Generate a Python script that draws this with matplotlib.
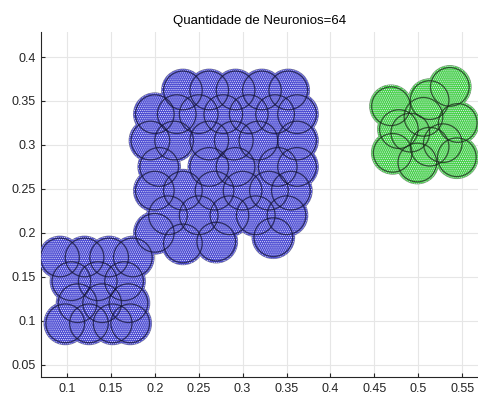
import matplotlib.pyplot as plt
from matplotlib.patches import Circle

plt.rcParams["font.family"] = ["Liberation Sans", "DejaVu Sans"]

# neuron centres (x, y) for each class, 64 in total
blue_x = [
    # lower-left block
    0.092, 0.120, 0.148, 0.175,
    0.105, 0.135, 0.165,
    0.112, 0.140, 0.170,
    0.098, 0.125, 0.152, 0.172,
    # bridge
    0.200, 0.232, 0.270,
    # upper block
    0.232, 0.262, 0.292, 0.322, 0.352,
    0.200, 0.225, 0.250, 0.278, 0.307, 0.337, 0.362,
    0.195, 0.222, 0.262, 0.290, 0.318, 0.362,
    0.205, 0.262, 0.292, 0.340, 0.362,
    0.200, 0.232, 0.268, 0.300, 0.330, 0.355,
    0.215, 0.250, 0.285, 0.315, 0.350,
    0.335,
]
blue_y = [
    0.172, 0.172, 0.172, 0.172,
    0.145, 0.145, 0.145,
    0.120, 0.120, 0.120,
    0.097, 0.097, 0.097, 0.097,
    0.200, 0.188, 0.190,
    0.362, 0.362, 0.362, 0.362, 0.362,
    0.335, 0.335, 0.335, 0.335, 0.335, 0.335, 0.335,
    0.305, 0.305, 0.305, 0.305, 0.305, 0.305,
    0.275, 0.275, 0.275, 0.275, 0.275,
    0.248, 0.248, 0.248, 0.248, 0.248, 0.248,
    0.220, 0.220, 0.220, 0.220, 0.220,
    0.195,
]
green_x = [0.469, 0.513, 0.536, 0.545, 0.506, 0.491,
           0.471, 0.499, 0.544, 0.528, 0.513, 0.478]
green_y = [0.344, 0.351, 0.366, 0.325, 0.332, 0.314,
           0.291, 0.280, 0.286, 0.302, 0.298, 0.318]

radius = 0.022
x_ticks = [0.1, 0.15, 0.2, 0.25, 0.3, 0.35, 0.4, 0.45, 0.5, 0.55]
y_ticks = [0.05, 0.1, 0.15, 0.2, 0.25, 0.3, 0.35, 0.4]


def draw_cluster(ax, xs, ys, face, rim, ring):
    # rim first, so only the outer border of the union shows
    for x, y in zip(xs, ys):
        ax.add_patch(Circle((x, y), radius * 1.1, facecolor="none",
                            edgecolor=rim, lw=0.8, zorder=2))
    for x, y in zip(xs, ys):
        ax.add_patch(Circle((x, y), radius * 1.1, facecolor=face,
                            edgecolor="#e8e8ff", lw=0, hatch="........",
                            zorder=3))
    for x, y in zip(xs, ys):
        ax.add_patch(Circle((x, y), radius, facecolor="none",
                            edgecolor=ring, lw=0.9, alpha=0.75, zorder=4))


fig = plt.figure(figsize=(4.78, 3.96), dpi=100)
ax = fig.add_axes([0.0858, 0.048, 0.914, 0.871])

plt.rcParams["hatch.linewidth"] = 0.5
draw_cluster(ax, blue_x, blue_y, "#4c4cd2", "#7a7a90", "#141438")
draw_cluster(ax, green_x, green_y, "#48d448", "#7a907a", "#1a2a1a")

ax.set_xlim(0.0704, 0.568)
ax.set_ylim(0.036, 0.4284)
ax.set_xticks(x_ticks)
ax.set_yticks(y_ticks)
ax.set_xticklabels([f"{t:g}" for t in x_ticks])
ax.set_yticklabels([f"{t:g}" for t in y_ticks])
ax.grid(True, color="#e6e6e6", lw=0.8, zorder=0)
ax.set_axisbelow(True)
ax.tick_params(direction="in", length=3, labelsize=9, colors="#262626",
               pad=4)
for side in ("top", "right"):
    ax.spines[side].set_visible(False)
for side in ("left", "bottom"):
    ax.spines[side].set_color("#262626")
    ax.spines[side].set_linewidth(0.8)

ax.set_title("Quantidade de Neuronios=64", fontsize=9.5, pad=6)

fig.savefig("out.png", dpi=100)
